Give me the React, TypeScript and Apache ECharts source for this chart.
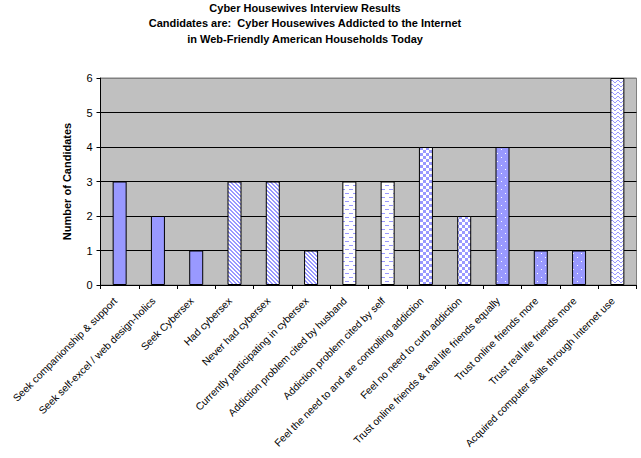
import React, { useEffect, useRef } from 'react';
import * as echarts from 'echarts';

const titleLines = [
  'Cyber Housewives Interview Results',
  'Candidates are:  Cyber Housewives Addicted to the Internet',
  'in Web-Friendly American Households Today',
];
const yAxisName = 'Number of Candidates';
const categories = [
  'Seek companionship & support',
  'Seek self-excel / web design-holics',
  'Seek Cybersex',
  'Had cybersex',
  'Never had cybersex',
  'Currently participating in cybersex',
  'Addiction problem cited by husband',
  'Addiction problem cited by self',
  'Feel the need to and are controlling addiction',
  'Feel no need to curb addiction',
  'Trust online friends & real life friends equally',
  'Trust online friends more',
  'Trust real life friends more',
  'Acquired computer skills through Internet use',
];
const values = [3, 2, 1, 3, 3, 1, 3, 3, 4, 2, 4, 1, 1, 6];
// fill style per bar (style only)
const fills = ['solid', 'solid', 'solid', 'diag', 'diag', 'diag', 'dash', 'dash', 'check', 'check', 'dots', 'dots', 'dots', 'wave'];

const BLUE = '#9999FF';

function makeFill(kind: string): any {
  if (kind === 'solid') return BLUE;
  const c = document.createElement('canvas');
  const px = (ctx: CanvasRenderingContext2D, x: number, y: number, col: string) => {
    ctx.fillStyle = col;
    ctx.fillRect(x, y, 1, 1);
  };
  let w = 8, h = 8;
  if (kind === 'diag') { w = 4; h = 4; }
  if (kind === 'check') { w = 6; h = 6; }
  if (kind === 'wave') { w = 6; h = 4; }
  c.width = w; c.height = h;
  const ctx = c.getContext('2d')!;
  if (kind === 'dots') {
    ctx.fillStyle = BLUE; ctx.fillRect(0, 0, w, h);
    px(ctx, 1, 1, '#FFFFFF');
    px(ctx, 5, 5, '#FFFFFF');
  } else {
    ctx.fillStyle = '#FFFFFF'; ctx.fillRect(0, 0, w, h);
    for (let y = 0; y < h; y++) {
      for (let x = 0; x < w; x++) {
        let on = false;
        if (kind === 'diag') on = (((x - y) % 4) + 4) % 4 < 2;
        if (kind === 'check') on = (x < 3) !== (y < 3);
        if (kind === 'dash') on = (y === 1 && x >= 1 && x <= 4) || (y === 5 && (x >= 5 || x === 0));
        if (kind === 'wave') {
          const wy = [0, 1, 2, 2, 1, 0][x];
          on = y === wy;
        }
        if (on) px(ctx, x, y, BLUE);
      }
    }
  }
  return { image: c, repeat: 'repeat' };
}

export default function App() {
  const ref = useRef<HTMLDivElement>(null);
  useEffect(() => {
    if (!ref.current) return;
    const chart = echarts.init(ref.current, null, { renderer: 'svg' });
    const font = '"Liberation Sans", Arial, sans-serif';
    chart.setOption({
      animation: false,
      backgroundColor: '#FFFFFF',
      title: {
        text: titleLines.join('\n'),
        left: 305,
        top: 0,
        padding: 0,
        textAlign: 'center',
        textStyle: { fontFamily: font, fontSize: 11, fontWeight: 'bold', color: '#000', lineHeight: 15.5 },
      },
      grid: {
        left: 100.5,
        right: 4.5,
        top: 78,
        bottom: 173,
        containLabel: false,
        outerBoundsMode: 'none',
        show: true,
        backgroundColor: '#C0C0C0',
        borderColor: '#808080',
        borderWidth: 1,
      },
      xAxis: {
        type: 'category',
        data: categories,
        axisLine: { lineStyle: { color: '#000', width: 1 } },
        axisTick: { show: true, length: 4, lineStyle: { color: '#000' } },
        axisLabel: {
          interval: 0,
          rotate: 45,
          margin: 10,
          padding: [0, 6, 0, 0],
          fontFamily: font,
          fontSize: 10.3,
          color: '#000',
        },
      },
      yAxis: {
        type: 'value',
        min: 0,
        max: 6,
        interval: 1,
        name: yAxisName,
        nameLocation: 'middle',
        nameRotate: 90,
        nameGap: 28,
        nameTextStyle: { fontFamily: font, fontSize: 11, fontWeight: 'bold', color: '#000' },
        axisLine: { show: true, lineStyle: { color: '#000', width: 1 } },
        axisTick: { show: true, length: 4, lineStyle: { color: '#000' } },
        axisLabel: { fontFamily: font, fontSize: 11, color: '#000', margin: 8 },
        splitLine: {
          show: true,
          lineStyle: { color: ['#000', '#000', '#000', '#000', '#000', '#000', '#808080'], width: 1 },
        },
      },
      series: [
        {
          type: 'bar',
          barWidth: 14,
          data: values.map((v, i) => ({
            value: v,
            itemStyle: { color: makeFill(fills[i]), borderColor: '#000', borderWidth: 1 },
          })),
        },
      ],
    });
    return () => chart.dispose();
  }, []);
  return (
    <div
      ref={ref}
      style={{ position: 'absolute', left: 0, top: 0, width: 641, height: 458 }}
    />
  );
}
